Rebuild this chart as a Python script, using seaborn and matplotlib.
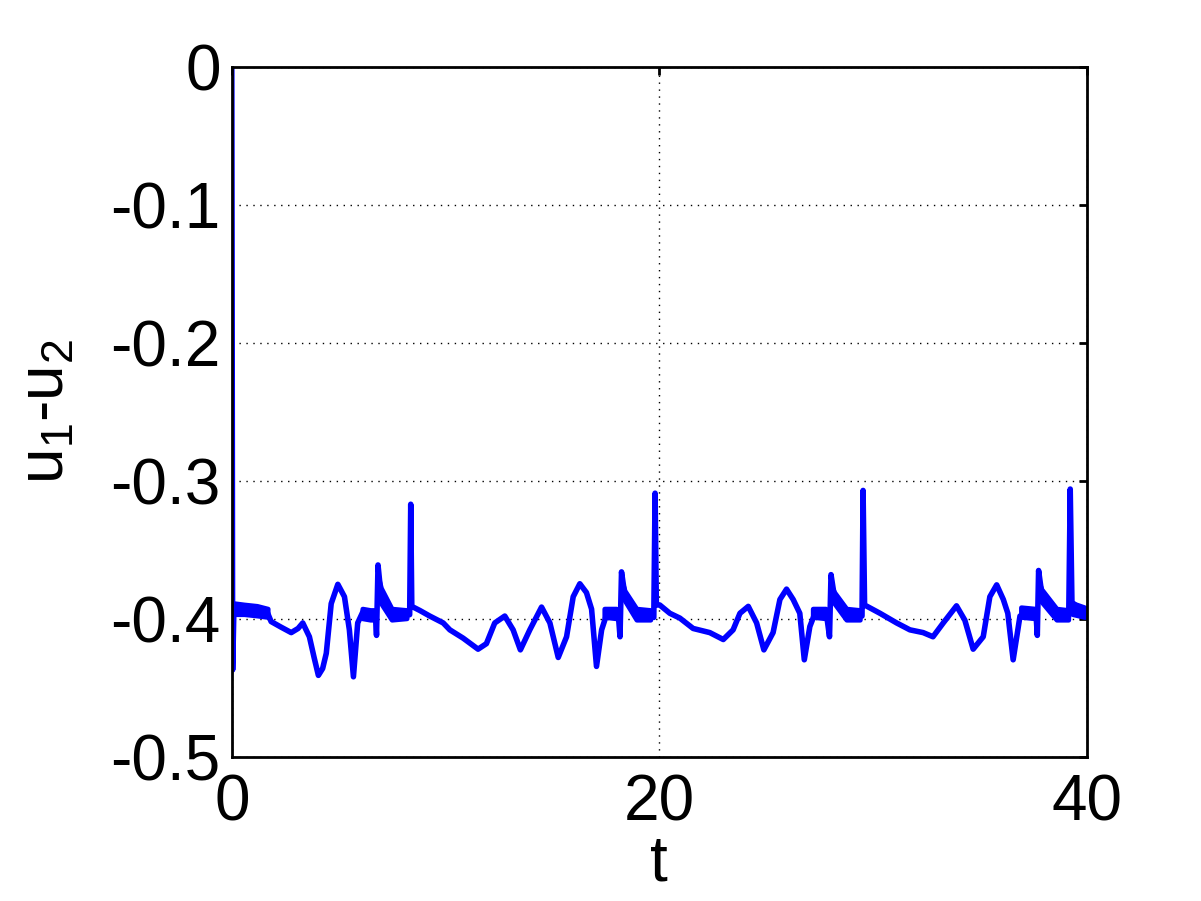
import numpy as np
import matplotlib
matplotlib.use("Agg")
import matplotlib.pyplot as plt
import seaborn as sns

# main trace
t = [0, 0.04, 0.1, 0.6, 1.2, 1.68, 1.84, 2.3, 2.78, 3.1, 3.32, 3.63, 3.85, 4.05, 4.25,
     4.42, 4.65, 4.96, 5.27, 5.5, 5.69, 5.89, 6.13, 6.5, 6.72, 6.77, 6.84, 6.95, 7.2,
     7.5, 8.0, 8.32, 8.37, 8.42, 8.8, 9.26, 9.89, 10.2, 10.82, 11.52, 11.91, 12.3,
     12.77, 13.16, 13.5, 13.94, 14.49, 14.88, 15.27, 15.66, 15.97, 16.28, 16.59, 16.83,
     17.06, 17.3, 17.53, 18.08, 18.16, 18.23, 18.4, 18.95, 19.6, 19.74, 19.8, 19.86,
     20.02, 20.49, 20.96, 21.58, 22.36, 22.99, 23.45, 23.77, 24.16, 24.55, 24.89, 25.32,
     25.64, 25.95, 26.26, 26.57, 26.78, 27.04, 27.28, 27.82, 27.96, 28.03, 28.2, 28.76,
     29.4, 29.48, 29.53, 29.6, 30.32, 31.1, 31.72, 32.34, 32.8, 33.28, 33.9, 34.29,
     34.68, 35.15, 35.46, 35.78, 36.09, 36.3, 36.55, 36.87, 37.18, 37.62, 37.68, 37.74,
     37.9, 38.74, 39.15, 39.22, 39.3, 39.83, 40]
u = [0, -0.437, -0.392, -0.393, -0.394, -0.396, -0.402, -0.406, -0.410, -0.407, -0.403,
     -0.413, -0.428, -0.441, -0.436, -0.425, -0.389, -0.375, -0.384, -0.408, -0.442,
     -0.403, -0.395, -0.397, -0.398, -0.412, -0.361, -0.378, -0.390, -0.397, -0.398,
     -0.397, -0.317, -0.391, -0.394, -0.398, -0.403, -0.408, -0.414, -0.422, -0.418,
     -0.403, -0.398, -0.408, -0.4225, -0.408, -0.3915, -0.403, -0.428, -0.413, -0.384,
     -0.3746, -0.381, -0.393, -0.4345, -0.408, -0.397, -0.397, -0.413, -0.366, -0.384,
     -0.397, -0.398, -0.399, -0.309, -0.390, -0.390, -0.396, -0.3995, -0.407, -0.410,
     -0.415, -0.408, -0.396, -0.391, -0.403, -0.4225, -0.410, -0.386, -0.3785, -0.386,
     -0.396, -0.4297, -0.4056, -0.396, -0.397, -0.413, -0.368, -0.385, -0.397, -0.398,
     -0.398, -0.307, -0.390, -0.396, -0.403, -0.408, -0.410, -0.413, -0.403, -0.3906,
     -0.401, -0.422, -0.413, -0.384, -0.3754, -0.386, -0.396, -0.4297, -0.398, -0.397,
     -0.397, -0.412, -0.365, -0.383, -0.398, -0.398, -0.306, -0.388, -0.395, -0.396]

# envelopes of the fast small oscillation (NaN splits the bands)
nan = np.nan
band_t = [0.1, 0.6, 1.2, 1.7, nan,
          6.13, 6.5, 6.72, nan,
          6.9, 7.0, 7.5, 8.2, nan,
          17.45, 18.0, 18.12, nan,
          18.3, 18.4, 18.95, 19.6, nan,
          27.2, 27.8, 27.9, nan,
          28.08, 28.2, 28.77, 29.4, nan,
          36.94, 37.6, 37.64, nan,
          37.8, 37.9, 38.6, 39.15, nan,
          39.35, 39.9, 40]
band_hi = [-0.389, -0.390, -0.391, -0.393, nan,
           -0.393, -0.394, -0.394, nan,
           -0.372, -0.378, -0.393, -0.394, nan,
           -0.393, -0.393, -0.394, nan,
           -0.375, -0.380, -0.393, -0.394, nan,
           -0.393, -0.393, -0.394, nan,
           -0.377, -0.381, -0.393, -0.394, nan,
           -0.392, -0.393, -0.394, nan,
           -0.375, -0.379, -0.393, -0.394, nan,
           -0.389, -0.392, -0.393]
band_lo = [-0.397, -0.397, -0.398, -0.399, nan,
           -0.400, -0.401, -0.401, nan,
           -0.382, -0.389, -0.401, -0.400, nan,
           -0.399, -0.400, -0.401, nan,
           -0.385, -0.387, -0.401, -0.401, nan,
           -0.399, -0.400, -0.401, nan,
           -0.387, -0.389, -0.401, -0.401, nan,
           -0.399, -0.400, -0.401, nan,
           -0.385, -0.388, -0.401, -0.401, nan,
           -0.397, -0.399, -0.399]

x_ticks = [0, 20, 40]
y_ticks = [0, -0.1, -0.2, -0.3, -0.4, -0.5]
y_labels = ["0", "-0.1", "-0.2", "-0.3", "-0.4", "-0.5"]

sns.set_style("white")
plt.rcParams['font.family'] = ['Liberation Sans', 'DejaVu Sans']
plt.rcParams['mathtext.default'] = 'regular'

fig = plt.figure(figsize=(12.01, 9.01), dpi=100)
ax = fig.add_axes([0.193, 0.16, 0.712, 0.766])

blue = '#0000ff'
ax.fill_between(band_t, band_lo, band_hi, color=blue, linewidth=3.5)
sns.lineplot(x=t, y=u, ax=ax, color=blue, linewidth=4, sort=False, estimator=None,
             solid_joinstyle='round', solid_capstyle='round')

ax.set_xlim(0, 40)
ax.set_ylim(-0.5, 0)
ax.set_xticks(x_ticks)
ax.set_yticks(y_ticks)
ax.set_yticklabels(y_labels)
ax.grid(True, linestyle=(0, (1, 4)), color='k', linewidth=1)

for s in ax.spines.values():
    s.set_color('k')
    s.set_linewidth(2)
ax.tick_params(direction='in', length=6, width=2, labelsize=46, colors='k',
               top=True, right=True, pad=8)
ax.tick_params(axis='x', pad=12)

ax.set_xlabel('t', fontsize=46, color='k', labelpad=0)
ax.set_ylabel('u$_1$-u$_2$', fontsize=46, color='k', labelpad=24)

fig.savefig('out.png', dpi=100)
